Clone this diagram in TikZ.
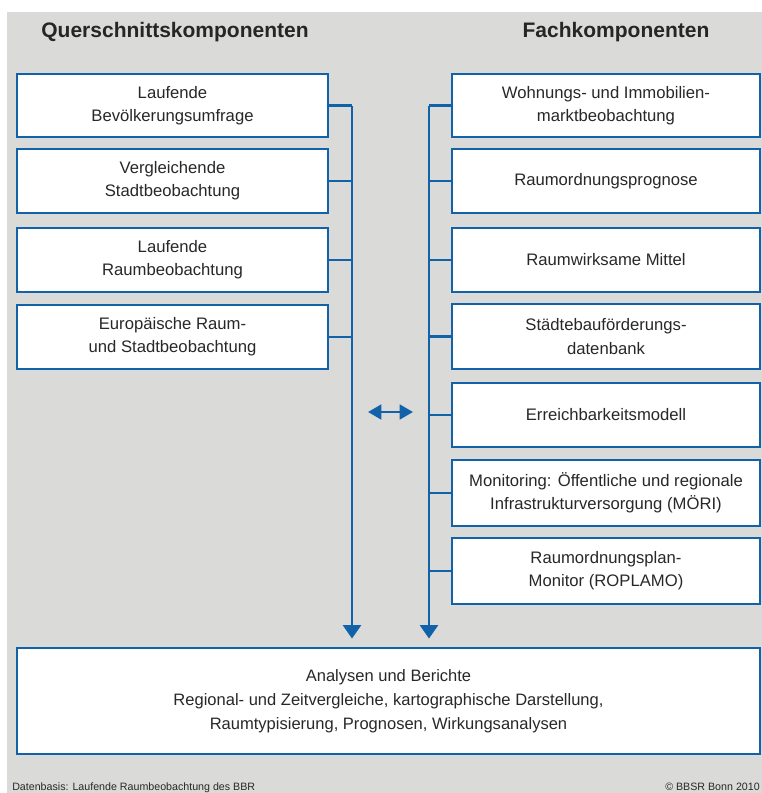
\documentclass[tikz,border=0pt]{standalone}
\usepackage{fontspec}
\setmainfont{Liberation Sans}
\usetikzlibrary{arrows.meta}
\definecolor{bbsrblue}{RGB}{18,98,170}
\definecolor{bggray}{RGB}{218,218,216}
\definecolor{txt}{RGB}{40,40,40}
\tikzset{
  compbox/.style={draw=bbsrblue, line width=2.2pt, fill=white, align=center,
    inner sep=0pt, text=txt, font=\fontsize{12.5}{17.5}\selectfont},
  leftbox/.style={compbox, minimum width=233.25pt},
  rightbox/.style={compbox, minimum width=231pt},
  link/.style={draw=bbsrblue, line width=1.6pt},
  trunk/.style={link, -{Triangle[width=13.5pt,length=10pt]}, shorten >=6pt},
  title/.style={font=\bfseries\fontsize{15.75}{18}\selectfont, text=black!85, anchor=base, inner sep=0pt},
  foot/.style={font=\fontsize{8}{9}\selectfont, text=txt, inner sep=0pt}
}
\begin{document}
\begin{tikzpicture}[x=0.75pt,y=-0.75pt]
\useasboundingbox (0,0) rectangle (762,793);
\fill[white] (0,0) rectangle (762,793);
\fill[bggray] (7,12) rectangle (762,793);

\node[title] (tq) at (175,37) {Querschnittskomponenten};
\node[title] (tf) at (616,37) {Fachkomponenten};

% left boxes
\node[leftbox, minimum height=47.25pt] (L1) at (172.5,105.5) {Laufende\\Bevölkerungsumfrage};
\node[leftbox, minimum height=48pt] (L2) at (172.5,181) {Vergleichende\\Stadtbeobachtung};
\node[leftbox, minimum height=48pt] (L3) at (172.5,260) {Laufende\\Raumbeobachtung};
\node[leftbox, minimum height=48pt] (L4) at (172.5,337) {Europäische Raum-\\und Stadtbeobachtung};

% right boxes
\node[rightbox, minimum height=47.25pt] (R1) at (606,105.5) {Wohnungs- und Immobilien-\\marktbeobachtung};
\node[rightbox, minimum height=48pt] (R2) at (606,181) {Raumordnungsprognose};
\node[rightbox, minimum height=48pt] (R3) at (606,260) {Raumwirksame Mittel};
\node[rightbox, minimum height=48.75pt] (R4) at (606,336.5) {Städtebauförderungs-\\datenbank};
\node[rightbox, minimum height=48pt] (R5) at (606,415) {Erreichbarkeitsmodell};
\node[rightbox, minimum height=49.5pt] (R6) at (606,493) {Monitoring: Öffentliche und regionale\\Infrastrukturversorgung (MÖRI)};
\node[rightbox, minimum height=49.5pt] (R7) at (606,571) {Raumordnungsplan-\\Monitor (ROPLAMO)};

% bottom box
\node[compbox, minimum width=557.25pt, minimum height=79.5pt, font=\fontsize{12.4}{18}\selectfont] (B) at (388.5,701)
  {Analysen und Berichte\\Regional- und Zeitvergleiche, kartographische Darstellung,\\Raumtypisierung, Prognosen, Wirkungsanalysen};

% trunks
\coordinate (lt) at (352,101);
\coordinate (rt) at (429,101);
\draw[trunk] (L1.east -| lt) -- (lt |- B.north);
\draw[trunk] (R1.west -| rt) -- (rt |- B.north);

% left connectors
\foreach \n in {L1,L2,L3,L4} \draw[link] (\n.east) -- (\n.east -| lt);
% right connectors
\foreach \n in {R1,R2,R3,R4,R5,R6,R7} \draw[link] (\n.west) -- (\n.west -| rt);

% double arrow
\coordinate (da) at (368,412);
\coordinate (db) at (413,412);
\draw[draw=bbsrblue, line width=2pt, {Triangle[width=11pt,length=10pt]}-{Triangle[width=11pt,length=10pt]}] (da) -- (db);

% footer
\node[foot, anchor=base west] (f1) at (12,790) {Datenbasis: Laufende Raumbeobachtung des BBR};
\node[foot, anchor=base east] (f2) at (760,790) {© BBSR Bonn 2010};
\end{tikzpicture}
\end{document}
